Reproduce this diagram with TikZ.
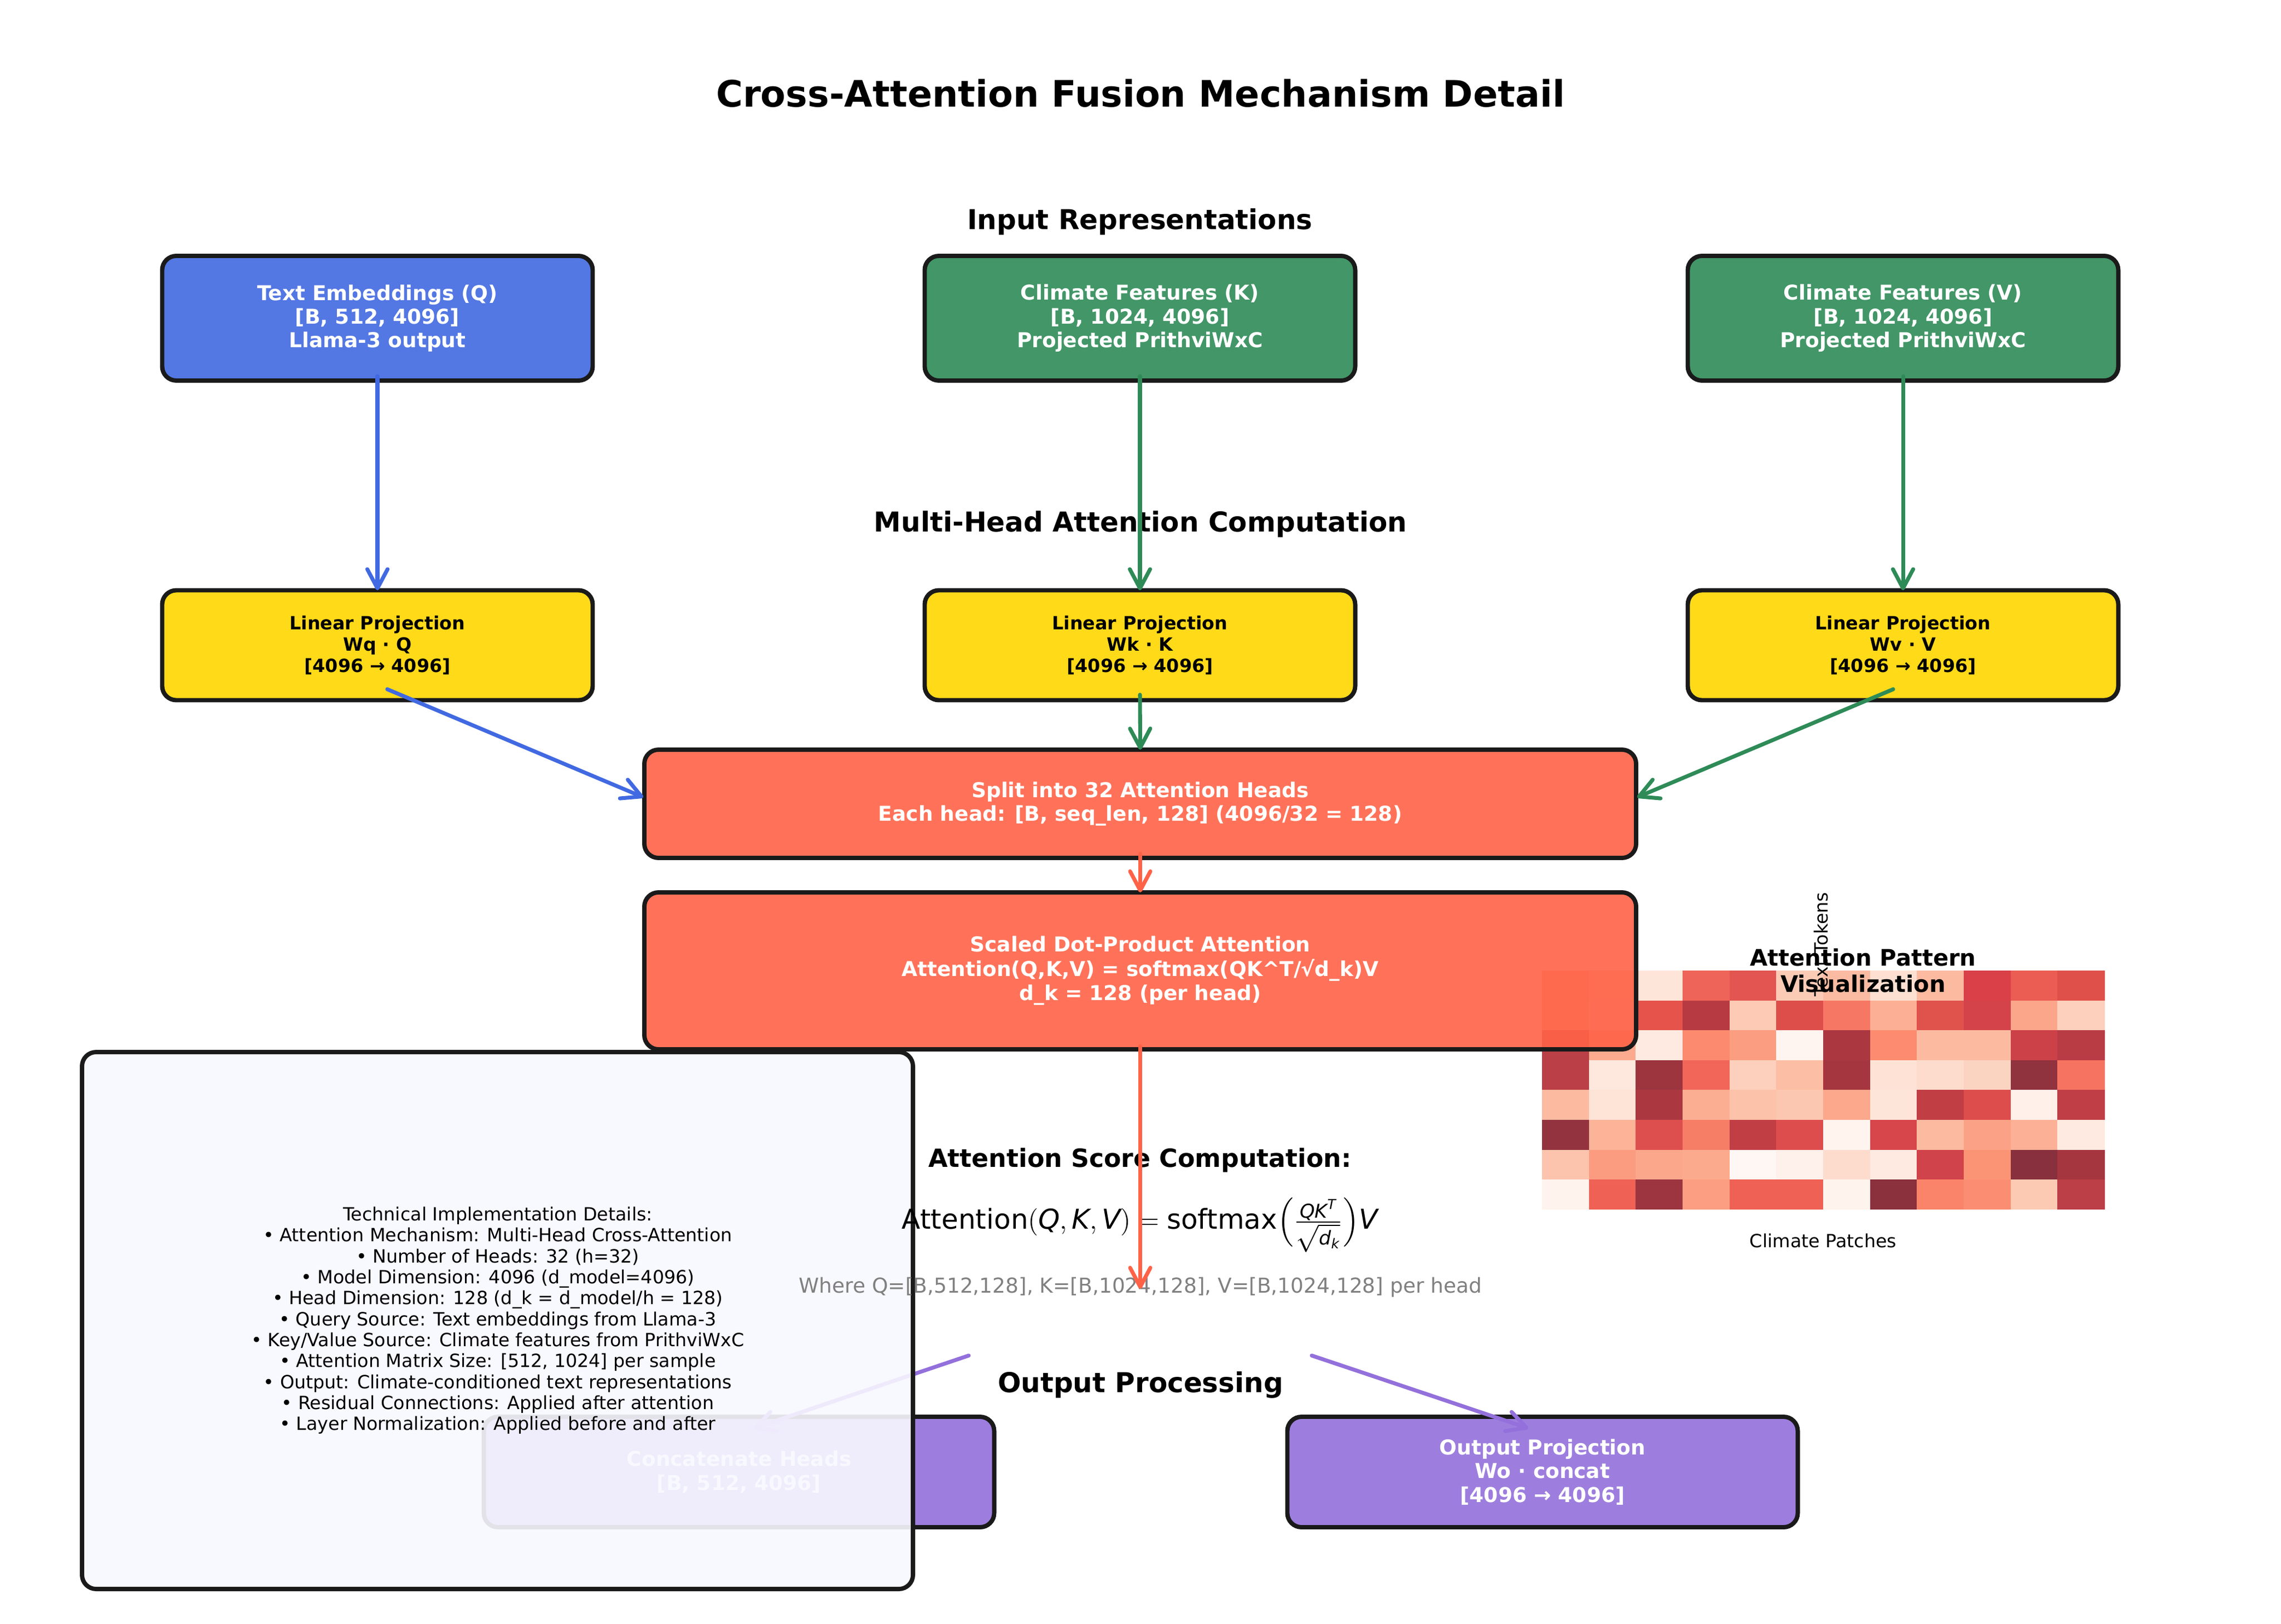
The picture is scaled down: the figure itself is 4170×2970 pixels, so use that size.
\documentclass[tikz,border=0pt]{standalone}
\usepackage{amsmath}
\usepackage{fontspec}
\setmainfont{DejaVu Sans}
\usetikzlibrary{arrows.meta,calc}
\definecolor{royalblue}{HTML}{4169E1}
\definecolor{seagreen}{HTML}{2E8B57}
\definecolor{gold}{HTML}{FFD700}
\definecolor{tomato}{HTML}{FF6347}
\definecolor{mediumpurple}{HTML}{9370DB}
\definecolor{ghostwhite}{HTML}{F8F8FF}
\definecolor{edge}{HTML}{1A1A1A}
\definecolor{wheregray}{HTML}{808080}
\newcommand\myfs[2]{\fontsize{#1bp}{#2bp}\selectfont}
\begin{document}
\begin{tikzpicture}[x=0.24bp,y=-0.24bp,
  box/.style={draw=edge, line width=1.9bp, rounded corners=6.2bp, fill opacity=0.9, text opacity=1,
    inner sep=0pt, outer sep=0pt, align=center, text=white, font=\bfseries\myfs{9}{10.4}},
  topbox/.style={box, minimum width=188.88bp, minimum height=54.72bp},
  linbox/.style={box, fill=gold, text=black, font=\bfseries\myfs{8}{9.3}, minimum width=188.88bp, minimum height=48.24bp},
  widebox/.style={box, fill=tomato, minimum width=435.12bp},
  outbox/.style={box, fill=mediumpurple, minimum width=223.92bp, minimum height=48.48bp},
  heading/.style={font=\bfseries\myfs{12}{14}, inner sep=0pt},
  arr/.style={line width=1.7bp, line cap=round, -{Straight Barb[length=8.4bp,width=8.9bp,round]}}
]
\fill[white] (0,0) rectangle (4170,2970);
\useasboundingbox (0,0) rectangle (4170,2970);

% heatmap
\foreach \r/\rowlist in {
 0/{FCAB95,FDC5B5,FEE5D9,EF6458,E25550,FBCBB6,FBBBA2,FEE0D2,FCBBA1,D94048,EB5D52,E0504A},
 1/{FCAB95,FED1C8,E5534B,B73A42,FCCAB5,DD4D4A,F67864,FCAF94,E0524C,D4434A,FBA68A,FCD0BC},
 2/{B84046,FCAA8F,FEEAE0,FC8A6E,FB9D80,FFF5F0,AB3841,FC8B6F,FCBBA1,FCBBA1,CC4148,B93C45},
 3/{BA3F46,FEE8DE,9D353F,F2665A,FCD0BC,FCBEA5,A5363F,FEE2D6,FDDCCD,FBD3C1,91323F,F67362},
 4/{FCBAA1,FEE3D7,AB3841,FCAE92,FCC2AA,FCC7B0,FBA88C,FEE5D9,C13E45,DD4D4C,FFF0EA,C03E46},
 5/{93333F,FCB398,DD4F4E,F67D66,C13E45,DD4D4E,FFF4EE,D6464B,FCBBA1,FBA286,FCB197,FEEAE0},
 6/{FCC4AD,FB9C80,FBA78B,FCAA8E,FFF7F3,FEF0EA,FDDCCE,FEEAE0,D0434A,FB9474,88303D,A5363F},
 7/{FFF3ED,EF6155,9C353F,FB9E82,EF6155,EF6155,FFF3ED,8A313D,FA8469,FB8E72,FCC9B3,BC3E46}}{
  \foreach \h [count=\c from 0] in \rowlist {
    \definecolor{hm}{HTML}{\h}
    \fill[hm] ({2819+\c*85.67},{1775+\r*54.6}) rectangle +(86.2,55.1);
  }
}

% boxes
\node[topbox, fill=royalblue] (q) at (690,582) {Text Embeddings (Q)\\{[B, 512, 4096]}\\Llama-3 output};
\node[topbox, fill=seagreen] (k) at (2084,582) {Climate Features (K)\\{[B, 1024, 4096]}\\Projected PrithviWxC};
\node[topbox, fill=seagreen] (v) at (3479,582) {Climate Features (V)\\{[B, 1024, 4096]}\\Projected PrithviWxC};
\node[linbox] (lq) at (690,1180) {Linear Projection\\Wq · Q\\{[4096 → 4096]}};
\node[linbox] (lk) at (2084,1180) {Linear Projection\\Wk · K\\{[4096 → 4096]}};
\node[linbox] (lv) at (3479,1180) {Linear Projection\\Wv · V\\{[4096 → 4096]}};
\node[widebox, minimum height=47.52bp] (split) at (2084.5,1470) {Split into 32 Attention Heads\\Each head: [B, seq\_len, 128] (4096/32 = 128)};
\node[widebox, minimum height=68.88bp, font=\bfseries\myfs{9}{10.7}] (scaled) at (2084.5,1775.5) {Scaled Dot-Product Attention\\Attention(Q,K,V) = softmax(QK\textasciicircum T/√d\_k)V\\d\_k = 128 (per head)};
\node[outbox] (concat) at (1351,2692) {Concatenate Heads\\{[B, 512, 4096]}};
\node[outbox] (outproj) at (2820,2692) {Output Projection\\Wo · concat\\{[4096 → 4096]}};

% arrows under the technical box
\coordinate (pls) at (1771,2479);
\coordinate (prs) at (2398,2479);
\draw[arr, mediumpurple] (pls) -- ($(concat.north)+(27,21)$);
\draw[arr, mediumpurple] (prs) -- ($(outproj.north)+(-26,21)$);

% technical details box
\node[box, fill=ghostwhite, minimum width=364.56bp, minimum height=235.68bp] (tech) at (909.5,2415) {};
\node[align=center, font=\myfs{8}{9.2}, inner sep=0pt] (techtxt) at (910,2415) {Technical Implementation Details:\\
• Attention Mechanism: Multi-Head Cross-Attention\\
• Number of Heads: 32 (h=32)\\
• Model Dimension: 4096 (d\_model=4096)\\
• Head Dimension: 128 (d\_k = d\_model/h = 128)\\
• Query Source: Text embeddings from Llama-3\\
• Key/Value Source: Climate features from PrithviWxC\\
• Attention Matrix Size: [512, 1024] per sample\\
• Output: Climate-conditioned text representations\\
• Residual Connections: Applied after attention\\
• Layer Normalization: Applied before and after};

% free texts
\node[font=\bfseries\myfs{16}{19}, inner sep=0pt] (title) at (2085,171) {Cross-Attention Fusion Mechanism Detail};
\node[heading] (h1) at (2084,406) {Input Representations};
\node[heading] (h2) at (2085,959) {Multi-Head Attention Computation};
\node[heading] (h3) at (2085,2533) {Output Processing};
\node[font=\bfseries\myfs{11}{13}, inner sep=0pt] (asc) at (2084,2122) {Attention Score Computation:};
\node[font=\myfs{12}{14}, inner sep=0pt] (formula) at (2084,2240) {$\text{Attention}(\textit{Q},\textit{K},\textit{V}) = \text{softmax}\Bigl(\frac{\textit{QK}^{\textit{T}}}{\sqrt{\textit{d}_{\textit{k}}}}\Bigr)\textit{V}$};
\node[font=\myfs{9}{10.4}, text=wheregray, inner sep=0pt] (where) at (2085,2354) {Where Q=[B,512,128], K=[B,1024,128], V=[B,1024,128] per head};
\node[font=\myfs{8}{9.2}, rotate=90, inner sep=0pt] (ttok) at (3329,1727) {Text Tokens};
\node[font=\myfs{8}{9.2}, inner sep=0pt] (cpat) at (3333,2269) {Climate Patches};
\node[font=\bfseries\myfs{10}{11.7}, align=center, inner sep=0pt] (hmtitle) at (3406,1775) {Attention Pattern\\Visualization};

% arrows on top
\coordinate (rd) at (2084.5,2357);
\draw[arr, royalblue] ($(q.south)+(0,-8)$) -- (lq.north);
\draw[arr, seagreen] ($(k.south)+(0,-8)$) -- (lk.north);
\draw[arr, seagreen] ($(v.south)+(0,-8)$) -- (lv.north);
\draw[arr, royalblue] ($(lq.south)+(18,-20)$) -- ($(split.west)+(-2,-12)$);
\draw[arr, seagreen] ($(lk.south)+(0,-10)$) -- (split.north);
\draw[arr, seagreen] ($(lv.south)+(-18,-20)$) -- ($(split.east)+(2,-12)$);
\draw[arr, tomato] ($(split.south)+(0,-8)$) -- (scaled.north);
\draw[arr, tomato] ($(scaled.south)+(0,-6)$) -- (rd);
\end{tikzpicture}
\end{document}
